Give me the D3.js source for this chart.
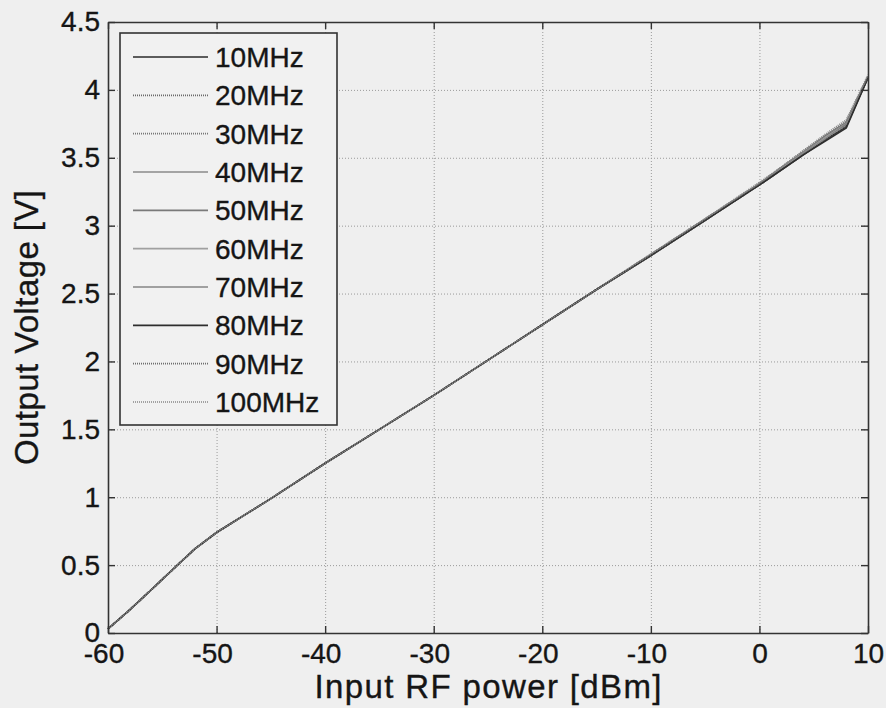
<!DOCTYPE html>
<html>
<head>
<meta charset="utf-8">
<script src="https://cdn.jsdelivr.net/npm/d3@7"></script>
<style>
  body { margin: 0; background: #efefef; }
  svg { font-family: "Liberation Sans", Arial, sans-serif; }
  text { stroke: #151515; stroke-width: 0.35px; }
</style>
</head>
<body>
<svg width="886" height="708"></svg>
<script>
// input power points (dBm)
var powerDbm = [-60, -58, -56, -54, -52, -50, -45, -40, -35, -30, -25, -20, -15, -10, -5, 0, 2, 4, 6, 8, 10];

var seriesNames = ["10MHz", "20MHz", "30MHz", "40MHz", "50MHz", "60MHz", "70MHz", "80MHz", "90MHz", "100MHz"];

// output voltage per frequency (V)
var v10  = [0.03, 0.17, 0.32, 0.47, 0.62, 0.74, 0.99, 1.25, 1.50, 1.75, 2.01, 2.27, 2.53, 2.78, 3.04, 3.30, 3.41, 3.52, 3.63, 3.73, 4.09];
var v20  = [0.03, 0.17, 0.32, 0.47, 0.62, 0.74, 0.99, 1.25, 1.50, 1.75, 2.01, 2.27, 2.53, 2.78, 3.04, 3.30, 3.41, 3.52, 3.63, 3.74, 4.09];
var v30  = [0.03, 0.17, 0.32, 0.47, 0.62, 0.74, 0.99, 1.25, 1.50, 1.75, 2.01, 2.27, 2.53, 2.78, 3.04, 3.30, 3.41, 3.53, 3.64, 3.74, 4.10];
var v40  = [0.03, 0.17, 0.32, 0.47, 0.62, 0.74, 0.99, 1.25, 1.50, 1.75, 2.01, 2.27, 2.53, 2.78, 3.04, 3.31, 3.42, 3.53, 3.64, 3.75, 4.10];
var v50  = [0.03, 0.17, 0.32, 0.47, 0.62, 0.74, 0.99, 1.25, 1.50, 1.75, 2.01, 2.27, 2.53, 2.78, 3.04, 3.31, 3.42, 3.53, 3.65, 3.75, 4.10];
var v60  = [0.03, 0.17, 0.32, 0.47, 0.62, 0.74, 0.99, 1.25, 1.50, 1.75, 2.01, 2.27, 2.53, 2.78, 3.05, 3.31, 3.42, 3.54, 3.65, 3.76, 4.10];
var v70  = [0.03, 0.17, 0.32, 0.47, 0.62, 0.74, 0.99, 1.25, 1.50, 1.75, 2.01, 2.27, 2.53, 2.79, 3.05, 3.31, 3.43, 3.54, 3.66, 3.76, 4.10];
var v80  = [0.03, 0.17, 0.32, 0.47, 0.62, 0.74, 0.99, 1.25, 1.50, 1.75, 2.01, 2.27, 2.53, 2.78, 3.04, 3.30, 3.41, 3.52, 3.62, 3.72, 4.09];
var v90  = [0.03, 0.17, 0.32, 0.47, 0.62, 0.74, 0.99, 1.25, 1.50, 1.75, 2.01, 2.27, 2.53, 2.79, 3.05, 3.31, 3.43, 3.55, 3.66, 3.77, 4.10];
var v100 = [0.03, 0.17, 0.32, 0.47, 0.62, 0.74, 0.99, 1.25, 1.50, 1.75, 2.01, 2.27, 2.53, 2.79, 3.05, 3.32, 3.43, 3.55, 3.67, 3.78, 4.11];

var allSeries = [v10, v20, v30, v40, v50, v60, v70, v80, v90, v100];

var xTicks = [-60, -50, -40, -30, -20, -10, 0, 10];
var yTicks = [0, 0.5, 1, 1.5, 2, 2.5, 3, 3.5, 4, 4.5];

// grey shades and dash styles of the scanned lines
var colors = ["#2a2a2a", "#6a6a6a", "#777", "#8a8a8a", "#7a7a7a", "#a0a0a0", "#858585", "#2e2e2e", "#6e6e6e", "#888"];
var dashes = [null, "1,1", "1,1", null, null, null, null, null, "1,1", "1,1"];

var plotLeft = 108, plotRight = 868, plotTop = 22, plotBottom = 633;

var svg = d3.select("svg");

var scaleX = d3.scaleLinear().domain([-60, 10]).range([plotLeft, plotRight]);
var scaleY = d3.scaleLinear().domain([0, 4.5]).range([plotBottom, plotTop]);

// grid
svg.append("g")
    .attr("transform", "translate(0," + plotBottom + ")")
    .call(d3.axisBottom(scaleX).tickValues(xTicks).tickSize(-(plotBottom - plotTop)).tickFormat(""))
    .call(function(g) { g.select(".domain").remove(); })
    .selectAll("line")
    .attr("stroke", "#9a9a9a").attr("stroke-dasharray", "1,2").attr("stroke-width", 1);

svg.append("g")
    .attr("transform", "translate(" + plotLeft + ",0)")
    .call(d3.axisLeft(scaleY).tickValues(yTicks).tickSize(-(plotRight - plotLeft)).tickFormat(""))
    .call(function(g) { g.select(".domain").remove(); })
    .selectAll("line")
    .attr("stroke", "#9a9a9a").attr("stroke-dasharray", "1,2").attr("stroke-width", 1);

// lines
var line = d3.line()
    .x(function(d, i) { return scaleX(powerDbm[i]); })
    .y(function(d) { return scaleY(d); });

svg.selectAll(".curve")
    .data(allSeries)
    .enter()
    .append("path")
    .attr("class", "curve")
    .attr("d", line)
    .attr("fill", "none")
    .attr("stroke", function(d, i) { return colors[i]; })
    .attr("stroke-width", 1.6)
    .attr("stroke-dasharray", function(d, i) { return dashes[i]; });

// axes (inward ticks on all sides)
function styleAxis(g) {
  g.select(".domain").attr("stroke", "#333").attr("stroke-width", 1.6);
  g.selectAll(".tick line").attr("stroke", "#333").attr("stroke-width", 1.4);
  g.selectAll("text").attr("fill", "#151515").attr("font-size", 28).attr("font-family", "Liberation Sans, Arial, sans-serif");
}

svg.append("g")
    .attr("transform", "translate(0," + plotBottom + ")")
    .call(d3.axisBottom(scaleX).tickValues(xTicks).tickSizeInner(-7).tickSizeOuter(0).tickPadding(10)
      .tickFormat(function(d) { return String(d); }))
    .call(styleAxis)
    .selectAll("text")
    .attr("dx", function(d) { return d < 0 ? "-0.16em" : 0; });

svg.append("g")
    .attr("transform", "translate(0," + plotTop + ")")
    .call(d3.axisTop(scaleX).tickValues(xTicks).tickSizeInner(-7).tickSizeOuter(0).tickFormat(""))
    .call(styleAxis);

svg.append("g")
    .attr("transform", "translate(" + plotLeft + ",0)")
    .call(d3.axisLeft(scaleY).tickValues(yTicks).tickSizeInner(-7).tickSizeOuter(0).tickPadding(8)
      .tickFormat(function(d) { return String(d); }))
    .call(styleAxis);

svg.append("g")
    .attr("transform", "translate(" + plotRight + ",0)")
    .call(d3.axisRight(scaleY).tickValues(yTicks).tickSizeInner(-7).tickSizeOuter(0).tickFormat(""))
    .call(styleAxis);

// axis titles
svg.append("text")
    .attr("x", (plotLeft + plotRight) / 2)
    .attr("y", 698)
    .attr("text-anchor", "middle")
    .attr("font-size", 33)
    .attr("textLength", 347)
    .attr("fill", "#151515")
    .text("Input RF power [dBm]");

svg.append("text")
    .attr("transform", "translate(38," + ((plotTop + plotBottom) / 2) + ") rotate(-90)")
    .attr("text-anchor", "middle")
    .attr("font-size", 33)
    .attr("textLength", 275)
    .attr("fill", "#151515")
    .text("Output Voltage [V]");

// legend
var legend = svg.append("g");

legend.append("rect")
    .attr("x", 120).attr("y", 33)
    .attr("width", 217).attr("height", 392)
    .attr("fill", "#f1f1f1")
    .attr("stroke", "#333").attr("stroke-width", 1.6);

var rowY = d3.scaleLinear().domain([0, 9]).range([57, 402]);

var items = legend.selectAll(".item")
    .data(seriesNames)
    .enter()
    .append("g")
    .attr("class", "item")
    .attr("transform", function(d, i) { return "translate(0," + rowY(i) + ")"; });

items.append("line")
    .attr("x1", 133).attr("x2", 208)
    .attr("stroke", function(d, i) { return colors[i]; })
    .attr("stroke-width", 1.6)
    .attr("stroke-dasharray", function(d, i) { return dashes[i]; });

items.append("text")
    .attr("x", 215)
    .attr("y", 10)
    .attr("font-size", 28)
    .attr("fill", "#151515")
    .text(function(d) { return d; });
</script>
</body>
</html>
